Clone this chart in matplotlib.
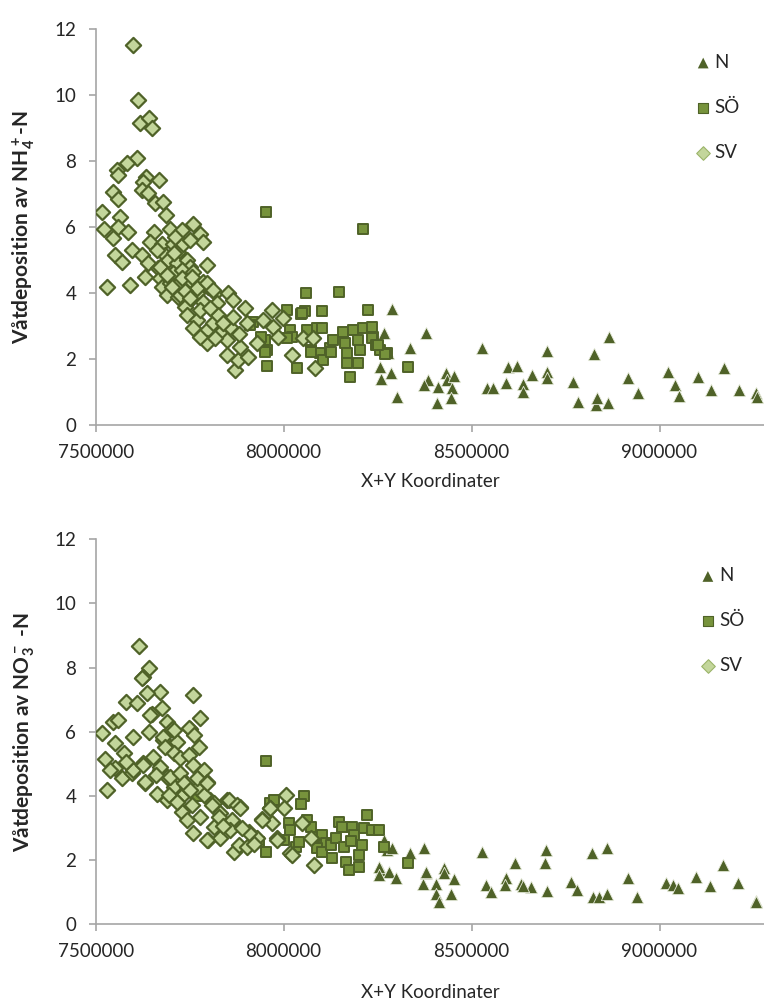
import numpy as np
import matplotlib
matplotlib.use("Agg")
import matplotlib.pyplot as plt

plt.rcParams['font.family'] = ['Lato', 'DejaVu Sans']
plt.rcParams['mathtext.fontset'] = 'custom'
plt.rcParams['mathtext.rm'] = 'Lato'
plt.rcParams['mathtext.bf'] = 'Lato:bold'

# ---------------- data (X+Y koordinat, deposition) ----------------
top_N = np.array([
    (8287000, 3.52), (8267000, 2.78), (8378000, 2.78), (8336000, 2.32), (8529000, 2.32),
    (8700000, 2.25), (8825000, 2.15), (8865000, 2.66), (8256000, 1.77), (8260000, 1.39),
    (8285000, 1.58), (8301000, 0.86), (8383000, 1.36), (8374000, 1.21), (8411000, 1.16),
    (8409000, 0.66), (8431000, 1.57), (8434000, 1.36), (8453000, 1.48), (8447000, 1.11),
    (8444000, 0.81), (8540000, 1.11), (8558000, 1.11), (8591000, 1.26), (8597000, 1.77),
    (8620000, 1.79), (8636000, 1.24), (8636000, 1.01), (8660000, 1.52), (8700000, 1.62),
    (8702000, 1.43), (8770000, 1.31), (8782000, 0.71), (8831000, 0.61), (8835000, 0.81),
    (8862000, 0.68), (8917000, 1.41), (8943000, 0.96), (9023000, 1.62), (9041000, 1.21),
    (9052000, 0.88), (9103000, 1.46), (9137000, 1.06), (9172000, 1.74), (9211000, 1.06),
    (9258000, 0.96), (9260000, 0.86), (8278000, 2.17)])

top_SO = np.array([
    (7953000, 6.46), (8212000, 5.93), (8059000, 3.99), (8148000, 4.02), (8101000, 3.45),
    (8225000, 3.48), (8046000, 3.35), (8057000, 3.45), (8008000, 3.48), (8017000, 2.88),
    (8021000, 2.68), (8061000, 2.88), (8088000, 2.93), (8101000, 2.93), (8159000, 2.83),
    (8185000, 2.88), (8212000, 2.93), (8234000, 2.98), (8238000, 2.68), (8008000, 2.63),
    (7919000, 3.13), (7950000, 2.58), (7955000, 2.27), (7955000, 1.79), (8035000, 1.74),
    (8048000, 3.38), (8074000, 2.27), (8097000, 2.17), (8105000, 1.97), (8123000, 2.32),
    (8132000, 2.58), (8163000, 2.48), (8168000, 2.17), (8168000, 1.87), (8176000, 1.46),
    (8199000, 2.58), (8203000, 2.27), (8199000, 1.87), (8234000, 2.63), (8247000, 2.42),
    (8274000, 2.17), (8256000, 2.27), (8330000, 1.77), (8269000, 2.14), (8074000, 2.22),
    (8127000, 2.22), (8252000, 2.42), (7911000, 3.03), (7950000, 2.22), (7941000, 2.68)])

top_SV = np.array([
    (7600000, 11.52), (7612000, 9.85), (7618000, 9.16), (7643000, 9.31), (7651000, 8.99),
    (7609000, 8.08), (7582000, 7.93), (7556000, 7.73), (7560000, 7.58), (7634000, 7.52),
    (7627000, 7.37), (7669000, 7.42), (7622000, 7.12), (7545000, 7.07), (7560000, 6.84),
    (7640000, 7.04), (7658000, 6.74), (7678000, 6.77), (7516000, 6.46), (7687000, 6.36),
    (7565000, 6.31), (7522000, 5.93), (7560000, 6.01), (7587000, 5.86), (7547000, 5.66),
    (7655000, 5.86), (7698000, 5.93), (7758000, 6.09), (7777000, 5.78), (7729000, 5.91),
    (7644000, 5.55), (7786000, 5.55), (7596000, 5.30), (7551000, 5.15), (7569000, 4.95),
    (7622000, 5.15), (7676000, 5.50), (7684000, 5.15), (7706000, 5.50), (7720000, 5.25),
    (7733000, 5.50), (7751000, 5.60), (7711000, 5.71), (7640000, 4.90), (7667000, 4.75),
    (7693000, 5.00), (7715000, 4.90), (7742000, 5.00), (7751000, 4.80), (7795000, 4.85),
    (7631000, 4.50), (7671000, 4.45), (7706000, 4.60), (7729000, 4.70), (7760000, 4.65),
    (7786000, 4.34), (7800000, 4.19), (7529000, 4.19), (7591000, 4.24), (7676000, 4.19),
    (7698000, 4.29), (7724000, 4.34), (7751000, 4.39), (7689000, 3.94), (7720000, 3.89),
    (7742000, 3.69), (7769000, 3.99), (7786000, 3.74), (7817000, 3.99), (7822000, 3.69),
    (7738000, 3.58), (7742000, 3.33), (7769000, 3.18), (7777000, 3.48), (7795000, 2.88),
    (7795000, 2.48), (7813000, 3.08), (7826000, 3.33), (7831000, 2.78), (7853000, 3.99),
    (7866000, 3.79), (7848000, 2.58), (7857000, 2.98), (7866000, 3.28), (7848000, 2.12),
    (7871000, 1.67), (7879000, 1.97), (7884000, 2.37), (7897000, 3.54), (7902000, 3.08),
    (7906000, 2.07), (7928000, 2.48), (7946000, 3.18), (7968000, 3.48), (7972000, 2.98),
    (7986000, 2.68), (7999000, 3.23), (8021000, 2.12), (8052000, 2.63), (8079000, 2.63),
    (8083000, 1.72), (7671000, 4.80), (7729000, 4.45), (7755000, 4.50), (7702000, 4.19),
    (7724000, 3.94), (7769000, 4.14), (7795000, 4.29), (7813000, 4.09), (7760000, 2.93),
    (7777000, 2.68), (7708000, 5.20), (7738000, 4.05), (7752000, 3.85), (7805000, 3.55),
    (7838000, 3.10), (7818000, 2.65), (7880000, 2.75), (7690000, 4.55), (7662000, 5.30)])

bot_N = np.array([
    (8267000, 2.62), (8276000, 2.31), (8289000, 2.36), (8258000, 1.68), (8280000, 1.63),
    (8298000, 1.43), (8336000, 2.20), (8374000, 2.36), (8378000, 1.58), (8371000, 1.26),
    (8405000, 1.26), (8405000, 0.95), (8414000, 0.70), (8427000, 1.74), (8427000, 1.58),
    (8452000, 1.40), (8445000, 0.95), (8527000, 2.26), (8538000, 1.22), (8553000, 1.00),
    (8592000, 1.43), (8589000, 1.22), (8616000, 1.89), (8632000, 1.26), (8658000, 1.14),
    (8698000, 2.31), (8696000, 1.89), (8701000, 1.04), (8765000, 1.32), (8781000, 1.06),
    (8820000, 2.22), (8861000, 2.38), (8824000, 0.83), (8838000, 0.85), (8860000, 0.94),
    (8916000, 1.43), (8941000, 0.85), (9018000, 1.27), (9036000, 1.22), (9049000, 1.13),
    (9098000, 1.48), (9134000, 1.19), (9169000, 1.84), (9208000, 1.29), (9256000, 0.73),
    (9258000, 0.68), (8254000, 1.79), (8254000, 1.53), (8378000, 1.63), (8636000, 1.20)])

bot_SO = np.array([
    (7954000, 5.09), (8054000, 3.99), (8045000, 3.73), (7965000, 3.76), (7974000, 3.87),
    (8014000, 3.14), (8018000, 2.93), (8000000, 2.62), (8032000, 2.41), (7952000, 2.26),
    (8063000, 3.24), (8072000, 3.03), (8080000, 2.72), (8103000, 2.78), (8112000, 2.52),
    (8089000, 2.36), (8103000, 2.26), (8125000, 2.46), (8147000, 3.19), (8156000, 3.03),
    (8138000, 2.67), (8160000, 2.41), (8165000, 1.94), (8174000, 1.68), (8200000, 2.15),
    (8200000, 1.79), (8183000, 3.03), (8187000, 2.78), (8209000, 2.46), (8223000, 3.40),
    (8214000, 2.98), (8236000, 2.93), (8254000, 2.93), (8267000, 2.41), (8331000, 1.91),
    (7769000, 3.99), (7876000, 3.03), (7934000, 2.57), (8040000, 2.57), (8130000, 2.05),
    (8180000, 2.60)])

bot_SV = np.array([
    (7614000, 8.67), (7643000, 7.99), (7627000, 7.71), (7759000, 7.14), (7670000, 7.25),
    (7636000, 7.20), (7581000, 6.93), (7609000, 6.88), (7676000, 6.73), (7778000, 6.42),
    (7649000, 6.54), (7547000, 6.31), (7558000, 6.36), (7516000, 5.95), (7643000, 6.00),
    (7600000, 5.84), (7689000, 6.31), (7703000, 6.07), (7750000, 6.07), (7680000, 5.74),
    (7551000, 5.64), (7774000, 5.53), (7716000, 5.69), (7525000, 5.14), (7653000, 5.22),
    (7529000, 4.18), (7551000, 4.86), (7569000, 4.54), (7596000, 4.70), (7631000, 4.39),
    (7663000, 4.07), (7689000, 3.87), (7707000, 4.28), (7734000, 4.07), (7729000, 3.50),
    (7743000, 3.24), (7756000, 3.71), (7778000, 3.35), (7787000, 4.80), (7800000, 2.62),
    (7814000, 3.03), (7805000, 3.87), (7831000, 2.67), (7849000, 3.87), (7867000, 2.26),
    (7863000, 3.24), (7880000, 2.46), (7885000, 3.66), (7907000, 2.88), (7903000, 2.41),
    (7929000, 2.67), (7943000, 3.29), (7965000, 3.61), (7969000, 3.14), (7983000, 2.67),
    (8005000, 4.02), (8000000, 3.61), (8018000, 2.20), (8049000, 3.14), (8072000, 2.67),
    (8080000, 1.84), (7627000, 5.01), (7671000, 4.80), (7689000, 4.59), (7725000, 4.59),
    (7743000, 4.28), (7769000, 4.23), (7787000, 4.02), (7814000, 3.76), (7831000, 3.45),
    (7760000, 2.83), (7858000, 2.93), (7623000, 7.66), (7645000, 6.52), (7680000, 5.84),
    (7707000, 6.05), (7747000, 6.10), (7574000, 5.32), (7685000, 5.53), (7707000, 5.32),
    (7725000, 5.17), (7747000, 5.27), (7760000, 4.96), (7538000, 4.80), (7600000, 4.80),
    (7627000, 4.96), (7671000, 4.90), (7631000, 4.44), (7698000, 4.59), (7725000, 4.70),
    (7734000, 4.39), (7769000, 4.54), (7796000, 4.44), (7694000, 4.02), (7751000, 4.18),
    (7796000, 4.39), (7854000, 3.87), (7876000, 3.71), (7884000, 3.61), (7809000, 3.71),
    (7827000, 3.35), (7796000, 2.62), (7907000, 2.83), (7943000, 3.24), (7965000, 3.61),
    (7983000, 2.62), (8021000, 2.15), (7762000, 5.90), (7716000, 3.80), (7840000, 3.05),
    (7890000, 3.00), (7920000, 2.50), (7660000, 4.65), (7580000, 5.05)])

series_labels = ["N", "SÖ", "SV"]
x_ticks = [7500000, 8000000, 8500000, 9000000]
y_ticks = [0, 2, 4, 6, 8, 10, 12]
x_label = "X+Y Koordinater"
y_labels = ["Våtdeposition av $\\mathbf{NH_4^+}$-N",
            "Våtdeposition av $\\mathbf{NO_3^-}$ -N"]

# ---------------- styling ----------------
DARK = "#4F6228"
MID = "#77933C"
LIGHT = "#C3D69B"
AXIS_GRAY = "#A6A6A6"
TEXT = "#262626"

W, H = 764, 1008
fig = plt.figure(figsize=(W / 100, H / 100), dpi=100)

def px_axes(left, top, right, bottom):
    return fig.add_axes([left / W, 1 - bottom / H, (right - left) / W, (bottom - top) / H])

ax_top = px_axes(95.7, 29, 764, 425)
ax_bot = px_axes(95.7, 539.3, 764, 924)

panels = [
    (ax_top, top_N, top_SO, top_SV, y_labels[0], 482, (0.895, 0.937), 0.5),
    (ax_bot, bot_N, bot_SO, bot_SV, y_labels[1], 992, (0.902, 0.927), 0.5),
]

for ax, dN, dS, dV, ylab, xlab_y, leg_anchor, ylab_c in panels:
    ax.scatter(dN[:, 0], dN[:, 1], marker="^", s=78, facecolor=DARK,
               edgecolor="#E8ECDD", linewidth=0.6, zorder=3)
    ax.scatter(dS[:, 0], dS[:, 1], marker="s", s=52, facecolor=MID,
               edgecolor=DARK, linewidth=1.4, zorder=4)
    ax.scatter(dV[:, 0], dV[:, 1], marker="D", s=60, facecolor=LIGHT,
               edgecolor=DARK, linewidth=1.6, zorder=5)

    ax.set_xlim(7500000, 9278000)
    ax.set_ylim(0, 12)
    ax.set_xticks(x_ticks)
    ax.set_xticklabels([str(v) for v in x_ticks])
    ax.set_yticks(y_ticks)
    ax.set_yticklabels([str(v) for v in y_ticks])

    for side in ("top", "right"):
        ax.spines[side].set_visible(False)
    for side in ("left", "bottom"):
        ax.spines[side].set_color(AXIS_GRAY)
        ax.spines[side].set_linewidth(1.2)
    ax.tick_params(axis="both", direction="out", length=5, width=1.2,
                   color=AXIS_GRAY, labelcolor=TEXT, labelsize=13.5, pad=9)

    ax.set_ylabel(ylab, fontsize=15, fontweight="bold", color=TEXT)
    ax.yaxis.set_label_coords(-0.088, ylab_c)
    ax.set_xlabel(x_label, fontsize=13.5, color=TEXT)
    ax_h_px = ax.get_position().height * H
    ax.xaxis.set_label_coords(0.5, -(xlab_y - (1 - ax.get_position().y0) * H) / ax_h_px)
    ax.xaxis.label.set_va("center")

    # legend with small handle markers
    lN = ax.scatter([], [], marker="^", s=60, facecolor=DARK, edgecolor="none")
    lS = ax.scatter([], [], marker="s", s=48, facecolor=MID, edgecolor=DARK, linewidth=0.8)
    lV = ax.scatter([], [], marker="D", s=48, facecolor=LIGHT, edgecolor="#9BB56A", linewidth=0.8)
    ax.legend([lN, lS, lV], series_labels, loc="upper left", bbox_to_anchor=leg_anchor,
              frameon=False, fontsize=13.5, handletextpad=0.1, handlelength=1.0,
              labelspacing=1.48, borderaxespad=0, borderpad=0, labelcolor=TEXT)

fig.savefig("out.png", dpi=100)
